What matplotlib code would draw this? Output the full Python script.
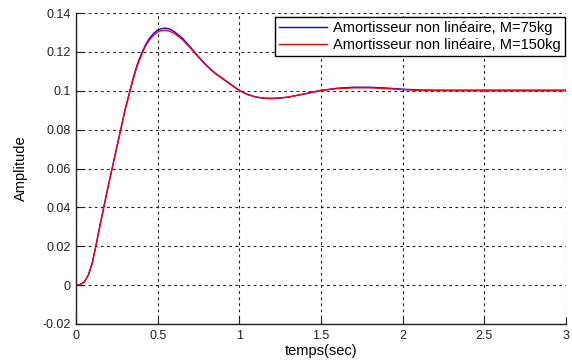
import matplotlib
matplotlib.use("Agg")
import matplotlib.pyplot as plt

plt.rcParams['font.family'] = ['Liberation Sans', 'DejaVu Sans']

# Data
t = [0, 0.025, 0.05, 0.075, 0.1, 0.125, 0.15, 0.2, 0.25, 0.3, 0.35, 0.375,
     0.4, 0.425, 0.45, 0.475, 0.5, 0.525, 0.55, 0.575, 0.6, 0.65, 0.7, 0.75,
     0.8, 0.85, 0.9, 0.95, 1.0, 1.05, 1.1, 1.15, 1.2, 1.25, 1.3, 1.4, 1.5,
     1.6, 1.7, 1.8, 1.9, 2.0, 2.1, 2.2, 2.4, 2.6, 2.8, 3.0]
m75 = [0, 0.0003, 0.0015, 0.005, 0.0115, 0.0215, 0.032, 0.052, 0.071, 0.090,
       0.1065, 0.1135, 0.1190, 0.1235, 0.1270, 0.1295, 0.1312, 0.1320, 0.1322,
       0.1317, 0.1305, 0.1272, 0.1225, 0.1175, 0.1130, 0.1092, 0.1062, 0.1032,
       0.1002, 0.0981, 0.0968, 0.0961, 0.0960, 0.0962, 0.0967, 0.0984, 0.1002,
       0.1013, 0.1018, 0.1018, 0.1014, 0.1008, 0.1004, 0.1003, 0.1003, 0.1003,
       0.1003, 0.1003]
m150 = [0, 0.0003, 0.0015, 0.005, 0.0115, 0.0215, 0.032, 0.052, 0.071, 0.090,
        0.1060, 0.1128, 0.1183, 0.1228, 0.1262, 0.1286, 0.1302, 0.1310, 0.1311,
        0.1306, 0.1296, 0.1265, 0.1220, 0.1172, 0.1128, 0.1090, 0.1060, 0.1030,
        0.1001, 0.0981, 0.0968, 0.0962, 0.0961, 0.0963, 0.0968, 0.0984, 0.1001,
        0.1011, 0.1015, 0.1015, 0.1011, 0.1006, 0.1002, 0.1001, 0.1000, 0.1000,
        0.1000, 0.1000]

labels = ['Amortisseur non linéaire, M=75kg', 'Amortisseur non linéaire, M=150kg']
xticks = [0, 0.5, 1, 1.5, 2, 2.5, 3]
xticklabels = ['0', '0.5', '1', '1.5', '2', '2.5', '3']
yticks = [-0.02, 0, 0.02, 0.04, 0.06, 0.08, 0.1, 0.12, 0.14]
yticklabels = ['-0.02', '0', '0.02', '0.04', '0.06', '0.08', '0.1', '0.12', '0.14']

fig = plt.figure(figsize=(5.72, 3.61), dpi=100)
ax = fig.add_axes([76/572, 1 - 324/361, (566-76)/572, (324-13)/361])

ax.plot(t, m75, color='#0000ff', lw=1.0, label=labels[0])
ax.plot(t, m150, color='#ff0000', lw=1.0, label=labels[1])

ax.set_xlim(0, 3)
ax.set_ylim(-0.02, 0.14)
ax.set_xticks(xticks)
ax.set_xticklabels(xticklabels)
ax.set_yticks(yticks)
ax.set_yticklabels(yticklabels)
ax.tick_params(direction='in', length=5, labelsize=9, colors='#222222', pad=4)

ax.grid(True, color='#222222', linestyle=(0, (2.5, 3)), linewidth=0.8)
ax.set_axisbelow(True)

for s in ['top', 'right']:
    ax.spines[s].set_visible(False)
for s in ['left', 'bottom']:
    ax.spines[s].set_color('#222222')
    ax.spines[s].set_linewidth(1.0)

ax.set_xlabel('temps(sec)', fontsize=10.5, labelpad=2)
ax.set_ylabel('Amplitude', fontsize=10.5, labelpad=10)

leg = ax.legend(loc='upper right', bbox_to_anchor=(0.998, 0.987), fontsize=10.5,
                frameon=True, fancybox=False, edgecolor='black', framealpha=1,
                handlelength=3.3, borderpad=0.3, labelspacing=0.15,
                handletextpad=0.4, borderaxespad=0.0)
leg.get_frame().set_linewidth(1.0)

fig.savefig('out.png', dpi=100)
